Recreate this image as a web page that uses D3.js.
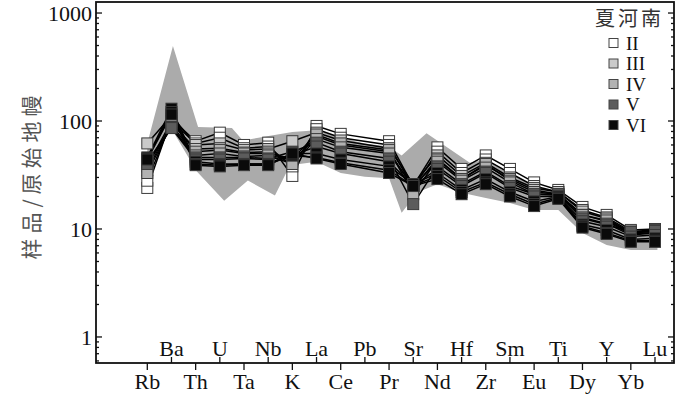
<!DOCTYPE html>
<html>
<head>
<meta charset="utf-8">
<script src="https://cdn.jsdelivr.net/npm/d3@7"></script>
<style>
  body { margin: 0; background: #fff; }
  svg text { font-family: "Liberation Serif", "Times New Roman", serif; }
  .cjk { font-family: "Noto Sans CJK SC", sans-serif; }
</style>
</head>
<body>
<svg id="chart" width="700" height="394"></svg>
<script>
"use strict"

// element order (primitive mantle normalised spider diagram)
const elements = ["Rb","Ba","Th","U","Ta","Nb","K","La","Ce","Pb","Pr","Sr","Nd","Hf","Zr","Sm","Eu","Ti","Dy","Y","Yb","Lu"];
const yTicks = [1, 10, 100, 1000];
const groups = ["II","III","IV","V","VI"];
const legendTitle = "夏河南";
const yTitle = "样品/原始地幔";

// samples (Pb not analysed -> null)
const sII_1  = [24,105,65,78,60,63,31,90,76,null,65,25,57,36,48,36,27,23,16,13.5,9.8,10];
const sII_2  = [28,100,62,70,56,58,38,84,70,null,60,24,52,33,44,33,25,22,15,12.8,9.5,9.8];
const sIII_1 = [62,112,60,62,54,55,65,78,66,null,56,26,48,31,41,30,24,22,14.5,12.5,9.2,9.6];
const sIII_2 = [35,95,55,56,51,52,42,72,60,null,52,24,45,29,39,29,23,21,13.5,11.8,9,9.3];
const sIV_1  = [38,100,52,54,50,50,45,75,62,null,54,21,44,29,40,28,22,21,13.5,12,9.3,9.5];
const sIV_2  = [33,92,48,50,47,48,40,68,57,null,50,25,42,28,37,27,21,20.5,12.8,11.2,8.8,9.2];
const sV_1   = [42,88,46,46,46,45,52,63,52,null,45,17,38,26,34,25,21,21,12.5,11,9.4,9.6];
const sV_2   = [40,86,44,44,45,44,48,58,50,null,42,25,36,25,33,24,20,20,11.8,10.5,8.5,8.8];
const sVI_1  = [46,130,42,40,40,40,50,50,44,null,38,26,33,23,29,22,18,20,11,9.8,8,8.2];
const sVI_2  = [45,121,40,39,40,40,48,46,41,null,35,25,31,22,27,21,17,19.5,10.6,9.2,7.8,7.8];
const sVI_3  = [44,115,39,38,39,39,50,45,40,null,33,25,29,21,26,20,16.3,19,10.3,9,7.6,7.6];

const samples = [
    { group: "II", values: sII_1 }, { group: "II", values: sII_2 },
    { group: "III", values: sIII_1 }, { group: "III", values: sIII_2 },
    { group: "IV", values: sIV_1 }, { group: "IV", values: sIV_2 },
    { group: "V", values: sV_1 }, { group: "V", values: sV_2 },
    { group: "VI", values: sVI_1 }, { group: "VI", values: sVI_2 }, { group: "VI", values: sVI_3 }
];

// reference field (grey), vertices at fractional element positions
const bandHighPos = [0,1.06,2.1,3.5,3.95,5.2,6,7,8,9,10,10.52,11.55,13.34,14,15,16,17,18,19,20,21.1];
const bandHighVal = [62,495,88,86,66,74,79,82,70,62,58,48,77,41,44,33,25,22,15,12.5,9.5,9.5];
const bandLowPos  = [0,1,2.05,3.18,4.16,5.28,5.9,7,8,9,10,10.52,11.2,12,13,14,15,16,17,18,19,20,21.1];
const bandLowVal  = [40,85,34,18.3,28.1,20.4,39,42,33,30.5,29.5,14.1,22,26,21.6,19.4,17.4,15,15,9.2,7.1,6.4,6.4];

// styles
const groupFill = { II: "#ffffff", III: "#cacaca", IV: "#b2b2b2", V: "#5c5c5c", VI: "#0a0a0a" };

const svg = d3.select("#chart");
const plot = { left: 96, right: 674, top: 2, bottom: 363 };

const x = d3.scalePoint().domain(elements).range([147.3, 655]);
const xi = d3.scaleLinear().domain([0, elements.length - 1]).range([147.3, 655]);
const y = d3.scaleLog().domain([0.574, 1265]).range([plot.bottom, plot.top]);

// grey field
let bandPts = bandHighPos.map((p, i) => [xi(p), y(bandHighVal[i])]);
let lowPts = bandLowPos.map((p, i) => [xi(p), y(bandLowVal[i])]).reverse();
svg.append("path")
    .attr("d", d3.line()(bandPts.concat(lowPts)) + "Z")
    .attr("fill", "#ababab");

// sample lines
let line = d3.line()
    .x(d => x(d.el))
    .y(d => y(d.v));

function pts(s) {
    return elements.map((el, i) => ({ el: el, v: s.values[i] })).filter(d => d.v != null);
}

svg.append("g").selectAll("path")
    .data(samples)
    .enter().append("path")
    .attr("d", s => line(pts(s)))
    .attr("fill", "none")
    .attr("stroke", "#000")
    .attr("stroke-width", 1.5);

// markers
const ms = 11;
samples.forEach(function (s) {
    svg.append("g").selectAll("rect")
        .data(pts(s))
        .enter().append("rect")
        .attr("x", d => x(d.el) - ms / 2)
        .attr("y", d => y(d.v) - ms / 2)
        .attr("width", ms)
        .attr("height", ms)
        .attr("fill", groupFill[s.group])
        .attr("stroke", "#3a3a3a")
        .attr("stroke-width", 1);
});

// frame
svg.append("rect")
    .attr("x", plot.left).attr("y", plot.top)
    .attr("width", plot.right - plot.left).attr("height", plot.bottom - plot.top)
    .attr("fill", "none").attr("stroke", "#111").attr("stroke-width", 1.8);

// y ticks (inside, both sides)
let minor = [];
for (let d = 1; d <= 1000; d *= 10) {
    for (let k = 2; k <= 9; k++) if (d * k < 1265) minor.push(d * k);
}
minor.push(0.6, 0.7, 0.8, 0.9);

let yt = svg.append("g").attr("stroke", "#111").attr("stroke-width", 1.3);
yTicks.forEach(function (t) {
    yt.append("line").attr("x1", plot.left).attr("x2", plot.left + 6).attr("y1", y(t)).attr("y2", y(t));
    yt.append("line").attr("x1", plot.right).attr("x2", plot.right - 6).attr("y1", y(t)).attr("y2", y(t));
});
minor.forEach(function (t) {
    yt.append("line").attr("x1", plot.left).attr("x2", plot.left + 3).attr("y1", y(t)).attr("y2", y(t));
    yt.append("line").attr("x1", plot.right).attr("x2", plot.right - 3).attr("y1", y(t)).attr("y2", y(t));
});

svg.append("g").selectAll("text")
    .data(yTicks)
    .enter().append("text")
    .attr("x", plot.left - 4)
    .attr("y", d => y(d))
    .attr("dy", "0.35em")
    .attr("text-anchor", "end")
    .attr("font-size", 22)
    .attr("fill", "#111")
    .text(d => d);

// x ticks: alternate up (inside) and down (outside)
let xt = svg.append("g");
elements.forEach(function (el, i) {
    let up = i % 2 === 1;
    xt.append("line")
        .attr("x1", x(el)).attr("x2", x(el))
        .attr("y1", plot.bottom).attr("y2", up ? plot.bottom - 6 : plot.bottom + 7)
        .attr("stroke", "#111").attr("stroke-width", 1.3);
    xt.append("text")
        .attr("x", x(el))
        .attr("y", up ? 356 : 389)
        .attr("text-anchor", "middle")
        .attr("font-size", 22)
        .attr("fill", "#111")
        .text(el);
});

// y title
svg.append("text")
    .attr("class", "cjk")
    .attr("transform", "translate(39,175) rotate(-90)")
    .attr("text-anchor", "middle")
    .attr("font-size", 21)
    .attr("letter-spacing", 5)
    .attr("fill", "#555")
    .text(yTitle);

// legend
svg.append("text")
    .attr("class", "cjk")
    .attr("x", 664).attr("y", 26)
    .attr("text-anchor", "end")
    .attr("font-size", 20)
    .attr("letter-spacing", 3)
    .attr("fill", "#333")
    .text(legendTitle);

let lg = svg.append("g").selectAll("g")
    .data(groups)
    .enter().append("g")
    .attr("transform", (d, i) => "translate(0," + (43 + i * 20.5) + ")");
lg.append("rect")
    .attr("x", 609).attr("y", -4.5)
    .attr("width", 9).attr("height", 9)
    .attr("fill", d => groupFill[d])
    .attr("stroke", "#444").attr("stroke-width", 1);
lg.append("text")
    .attr("x", 626).attr("y", 6.5)
    .attr("font-size", 19)
    .attr("fill", "#111")
    .text(d => d);
</script>
</body>
</html>
